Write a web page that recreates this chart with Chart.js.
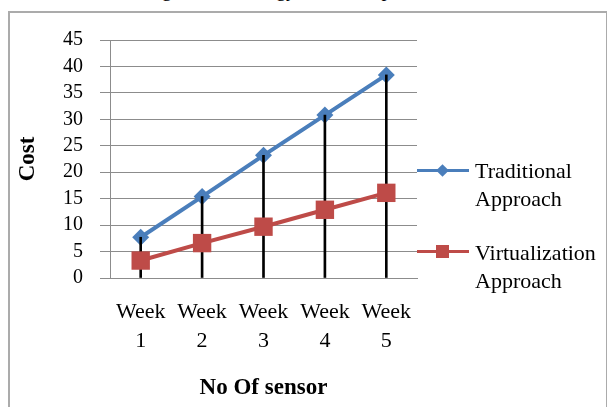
<!DOCTYPE html>
<html>
<head>
<meta charset="utf-8">
<script src="https://cdn.jsdelivr.net/npm/chart.js@4.4.1/dist/chart.umd.min.js"></script>
<style>
  body{margin:0;background:#fff;width:608px;height:407px;overflow:hidden;position:relative;font-family:'Liberation Serif',serif;}
  #frame{position:absolute;left:8px;top:11px;width:599px;height:420px;border:2px solid #ababab;border-right-width:1px;box-sizing:border-box;}
  #caption{position:absolute;top:-21px;left:145px;font-size:20px;line-height:20px;white-space:nowrap;color:#000;}
  #chartBox{position:absolute;left:0;top:0;width:608px;height:407px;}
  .leg{position:absolute;left:417px;width:52px;height:28px;}
  .leg .ln{position:absolute;left:0;top:12px;width:52px;height:3px;}
  .leg .mk{position:absolute;}
  .legtxt{position:absolute;left:475px;font-size:22px;line-height:28px;color:#000;}
</style>
</head>
<body>
<div id="caption">Fig. 3: Technology Cost Comparison</div>
<div id="frame"></div>
<div id="chartBox"><canvas id="myChart" width="608" height="407"></canvas></div>

<div class="leg" style="top:157px"><div class="ln" style="background:#4a7ebb"></div><div class="mk" style="left:21px;top:9px;width:9px;height:9px;background:#4a7ebb;transform:rotate(45deg)"></div></div>
<div class="legtxt" style="top:157px">Traditional<br>Approach</div>
<div class="leg" style="top:238px"><div class="ln" style="background:#be4b48"></div><div class="mk" style="left:19px;top:7px;width:13px;height:13px;background:#be4b48"></div></div>
<div class="legtxt" style="top:239px">Virtualization<br>Approach</div>

<script>
const weeks = [['Week', '1'], ['Week', '2'], ['Week', '3'], ['Week', '4'], ['Week', '5']];
const traditional = [7.7, 15.4, 23.2, 30.8, 38.4];
const virtualization = [3.3, 6.6, 9.7, 12.9, 16.1];
const yTicks = [0, 5, 10, 15, 20, 25, 30, 35, 40, 45];

Chart.defaults.font.family = "'Liberation Serif', serif";
Chart.defaults.color = '#000';

const ctx = document.getElementById('myChart').getContext('2d');
new Chart(ctx, {
  type: 'line',
  data: {
    labels: weeks,
    datasets: [{
      label: 'Virtualization Approach',
      data: virtualization,
      borderColor: '#be4b48',
      backgroundColor: '#be4b48',
      borderWidth: 4,
      pointStyle: 'rect',
      pointRadius: 13,
      pointBorderWidth: 0,
      order: 0
    }, {
      type: 'bar',
      label: 'drop',
      data: traditional,
      backgroundColor: '#000',
      barThickness: 2,
      order: 1
    }, {
      label: 'Traditional Approach',
      data: traditional,
      borderColor: '#4a7ebb',
      backgroundColor: '#4a7ebb',
      borderWidth: 4,
      pointStyle: 'rectRot',
      pointRadius: 8.5,
      pointBorderWidth: 0,
      order: 2
    }]
  },
  options: {
    responsive: false,
    animation: false,
    layout: { padding: { left: 0, top: 40, right: 191, bottom: 0 } },
    plugins: { legend: { display: false }, tooltip: { enabled: false } },
    scales: {
      x: {
        offset: true,
        grid: { display: false, drawTicks: false },
        border: { color: '#8c8c8c' },
        ticks: { maxRotation: 0, autoSkip: false, padding: 20, font: { size: 22, lineHeight: '29px' } },
        title: { display: true, text: 'No Of sensor', font: { size: 23, weight: 'bold' }, padding: { top: 0, bottom: 5 } },
        afterFit(scale) { scale.height = 129; }
      },
      y: {
        min: 0,
        max: 45,
        afterBuildTicks(scale) { scale.ticks = yTicks.map(v => ({ value: v })); },
        grid: { color: '#8c8c8c', tickLength: 10 },
        border: { color: '#8c8c8c' },
        ticks: { autoSkip: false, padding: 17, font: { size: 20, lineHeight: 1 } },
        title: { display: true, text: 'Cost', font: { size: 23, weight: 'bold' }, padding: { top: 14, bottom: 0 } },
        afterFit(scale) { scale.width = 110; }
      }
    }
  }
});
</script>
</body>
</html>
